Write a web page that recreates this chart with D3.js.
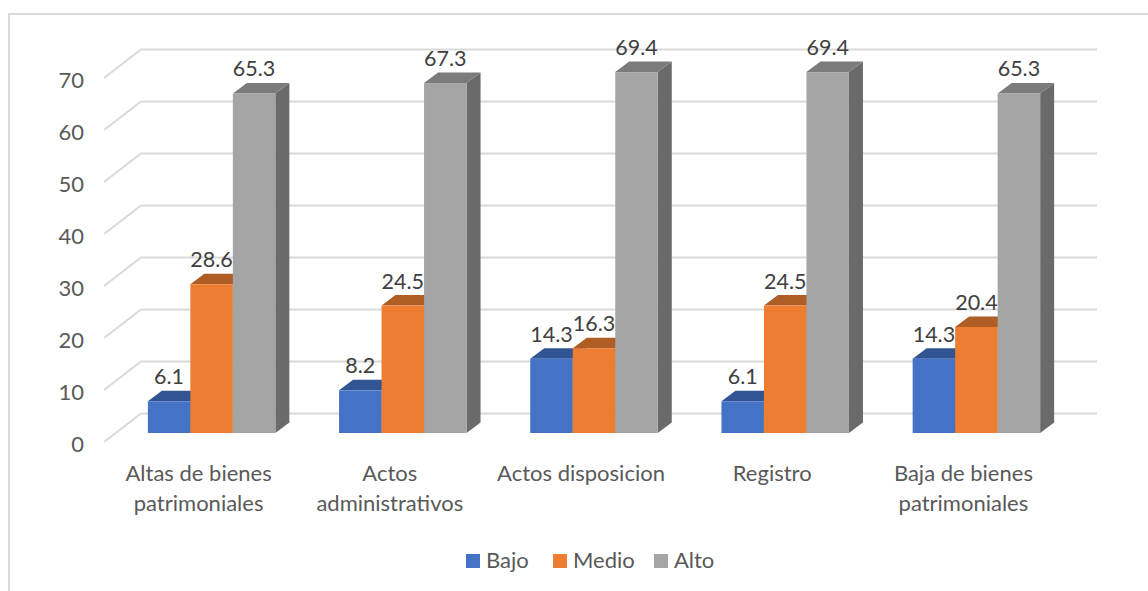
<!DOCTYPE html>
<html>
<head>
<meta charset="utf-8">
<script src="https://cdn.jsdelivr.net/npm/d3@7"></script>
<style>
  html, body { margin: 0; background: #fff; }
  text { font-family: Lato, sans-serif; }
</style>
</head>
<body>
<script>
// DATA
var categories = ["Altas de bienes patrimoniales", "Actos administrativos", "Actos disposicion", "Registro", "Baja de bienes patrimoniales"];
var categoryLines = [["Altas de bienes", "patrimoniales"], ["Actos", "administrativos"], ["Actos disposicion"], ["Registro"], ["Baja de bienes", "patrimoniales"]];
var seriesNames = ["Bajo", "Medio", "Alto"];
var bajo = [6.1, 8.2, 14.3, 6.1, 14.3];
var medio = [28.6, 24.5, 16.3, 24.5, 20.4];
var alto = [65.3, 67.3, 69.4, 69.4, 65.3];
var yTicks = [0, 10, 20, 30, 40, 50, 60, 70];

var faceColors = ["#4472C4", "#ED7D31", "#A5A5A5"];
var topColors = ["#325493", "#B05D25", "#7B7B7B"];
var sideColors = ["#2C4A82", "#9C5220", "#6A6A6A"];

var svg = d3.select("body").append("svg")
    .attr("width", 1148)
    .attr("height", 591)
    .style("display", "block");

// outer frame, runs off the right and bottom of the picture
svg.append("path")
    .attr("d", "M9,591V14H1148")
    .attr("fill", "none")
    .attr("stroke", "#d9d9d9")
    .attr("stroke-width", 2);

// floor is drawn as an oblique projection: back wall is shifted by wall.x / wall.y
const wall = {x: 37, y: -28.5};
const barShift = {x: 12, y: -9};
const depth = {x: 14, y: -10.5};

const xScale = d3.scaleBand()
    .domain(categories)
    .range([104, 1060])
    .paddingInner(0)
    .paddingOuter(0);

const yScale = d3.scaleLinear()
    .domain([0, 70])
    .range([442, 78]);

const groupScale = d3.scaleBand()
    .domain(seriesNames)
    .range([0, 127.5]);

// gridlines
const grid = svg.append("g");
yTicks.forEach(function(t) {
    grid.append("path")
        .attr("d", "M" + xScale.range()[0] + "," + yScale(t)
            + "L" + (xScale.range()[0] + wall.x) + "," + (yScale(t) + wall.y)
            + "L" + (xScale.range()[1] + wall.x) + "," + (yScale(t) + wall.y))
        .attr("fill", "none")
        .attr("stroke", "#d9d9d9")
        .attr("stroke-width", 2);
});

// y axis labels
const axis = svg.append("g")
    .attr("transform", "translate(84,2)")
    .call(d3.axisLeft(yScale).tickValues(yTicks).tickSize(0).tickPadding(0));
axis.select(".domain").remove();
axis.selectAll("text")
    .attr("font-size", 22)
    .style("font-family", "Lato, sans-serif")
    .attr("fill", "#595959");

// bars
const allValues = [bajo, medio, alto];
const bars = svg.append("g");
categories.forEach(function(cat, i) {
    const left = xScale(cat) + (xScale.bandwidth() - 127.5) / 2 + barShift.x;
    allValues.forEach(function(values, s) {
        const x0 = left + groupScale(seriesNames[s]);
        const x1 = x0 + groupScale.bandwidth();
        const y0 = yScale(values[i]) + barShift.y;
        const y1 = yScale(0) + barShift.y;
        const g = bars.append("g");
        g.append("path")
            .attr("d", "M" + x1 + "," + y0 + "l" + depth.x + "," + depth.y + "V" + (y1 + depth.y) + "L" + x1 + "," + y1 + "Z")
            .attr("fill", sideColors[s]);
        g.append("path")
            .attr("d", "M" + x0 + "," + y0 + "l" + depth.x + "," + depth.y + "H" + (x1 + depth.x) + "L" + x1 + "," + y0 + "Z")
            .attr("fill", topColors[s]);
        g.append("rect")
            .attr("x", x0)
            .attr("y", y0)
            .attr("width", x1 - x0)
            .attr("height", y1 - y0)
            .attr("fill", faceColors[s]);
    });
});

// value labels go on top of all the bars
categories.forEach(function(cat, i) {
    const left = xScale(cat) + (xScale.bandwidth() - 127.5) / 2 + barShift.x;
    allValues.forEach(function(values, s) {
        svg.append("text")
            .attr("x", left + groupScale(seriesNames[s]) + groupScale.bandwidth() / 2)
            .attr("y", yScale(values[i]) + barShift.y - 17)
            .attr("text-anchor", "middle")
            .attr("font-size", 21.5)
            .attr("fill", "#404040")
            .text(values[i].toFixed(1));
    });
});

// category labels
categories.forEach(function(cat, i) {
    categoryLines[i].forEach(function(line, l) {
        svg.append("text")
            .attr("x", xScale(cat) + xScale.bandwidth() / 2 - 1)
            .attr("y", 481 + l * 30)
            .attr("text-anchor", "middle")
            .attr("font-size", 22)
            .attr("fill", "#595959")
            .text(line);
    });
});

// legend
const legendX = [466, 553, 654];
seriesNames.forEach(function(name, s) {
    svg.append("rect")
        .attr("x", legendX[s])
        .attr("y", 554)
        .attr("width", 14)
        .attr("height", 14)
        .attr("fill", faceColors[s]);
    svg.append("text")
        .attr("x", legendX[s] + 20)
        .attr("y", 568)
        .attr("font-size", 22)
        .attr("fill", "#595959")
        .text(name);
});
</script>
</body>
</html>
